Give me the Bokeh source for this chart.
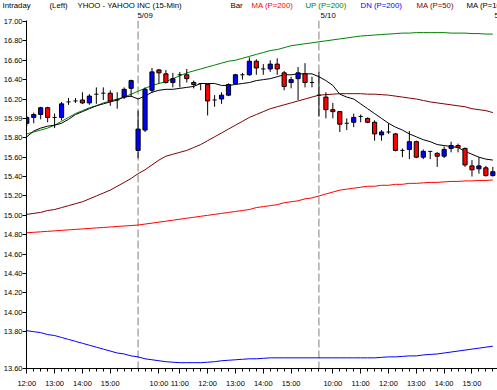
from bokeh.plotting import figure
from bokeh.models import Range1d, FixedTicker, Span, ColumnDataSource
from bokeh.layouts import column
from bokeh.core.properties import value
from bokeh.embed import file_html
from bokeh.resources import INLINE

# ---- data (bar index 0..67, 15-min bars over three sessions) ----
opens = [15.95, 16.01, 16.04, 16.11, 16.01, 16.01, 16.17, 16.18, 16.19, 16.16,
         16.25, 16.26, 16.26, 16.19, 16.22, 16.31,
         15.67, 15.88, 16.29, 16.50, 16.46, 16.37, 16.45, 16.45, 16.37, 16.36,
         16.35, 16.19, 16.20, 16.24, 16.36, 16.45, 16.45, 16.59, 16.51, 16.51,
         16.56, 16.47, 16.37, 16.41, 16.46, 16.37,
         16.24, 16.22, 16.09, 16.07, 15.95, 15.96, 16.02, 16.00, 15.96, 15.83,
         15.86, 15.84, 15.67, 15.68, 15.76, 15.60, 15.66, 15.64, 15.61, 15.69,
         15.72, 15.69, 15.51, 15.48, 15.49, 15.41]
highs = [16.03, 16.06, 16.12, 16.12, 16.05, 16.17, 16.21, 16.21, 16.27, 16.25,
         16.32, 16.32, 16.29, 16.27, 16.32, 16.40,
         16.08, 16.32, 16.52, 16.51, 16.50, 16.47, 16.48, 16.51, 16.39, 16.36,
         16.36, 16.24, 16.27, 16.36, 16.46, 16.47, 16.63, 16.61, 16.56, 16.60,
         16.62, 16.49, 16.43, 16.53, 16.57, 16.43,
         16.48, 16.27, 16.16, 16.07, 16.00, 16.05, 16.04, 16.01, 15.98, 15.88,
         15.95, 15.85, 15.69, 15.87, 15.77, 15.68, 15.66, 15.65, 15.71, 15.76,
         15.74, 15.70, 15.57, 15.60, 15.51, 15.50]
lows = [15.92, 15.95, 15.99, 15.96, 15.90, 15.98, 16.14, 16.16, 16.15, 16.14,
        16.15, 16.19, 16.13, 16.10, 16.20, 16.22,
        15.59, 15.86, 16.26, 16.36, 16.36, 16.32, 16.32, 16.37, 16.31, 16.29,
        16.03, 16.12, 16.15, 16.23, 16.35, 16.40, 16.44, 16.45, 16.45, 16.48,
        16.45, 16.29, 16.31, 16.19, 16.32, 16.32,
        16.02, 16.00, 16.00, 15.86, 15.88, 15.91, 15.96, 15.95, 15.77, 15.77,
        15.84, 15.66, 15.60, 15.58, 15.59, 15.58, 15.58, 15.50, 15.59, 15.65,
        15.65, 15.50, 15.40, 15.43, 15.40, 15.40]
closes = [16.01, 16.04, 16.11, 16.01, 16.01, 16.15, 16.17, 16.18, 16.16, 16.23,
          16.25, 16.26, 16.18, 16.19, 16.30, 16.39,
          15.89, 16.30, 16.48, 16.47, 16.37, 16.41, 16.45, 16.41, 16.35, 16.36,
          16.18, 16.19, 16.24, 16.35, 16.45, 16.45, 16.59, 16.52, 16.51, 16.56,
          16.51, 16.33, 16.40, 16.47, 16.37, 16.37,
          16.24, 16.09, 16.07, 15.94, 15.95, 16.01, 16.02, 15.96, 15.84, 15.86,
          15.86, 15.67, 15.67, 15.76, 15.60, 15.66, 15.66, 15.61, 15.68, 15.72,
          15.70, 15.52, 15.47, 15.51, 15.41, 15.45]

ma200 = [14.82, 14.825, 14.83, 14.835, 14.84, 14.845, 14.85, 14.855, 14.86, 14.865,
         14.87, 14.875, 14.88, 14.885, 14.89, 14.895, 14.90, 14.91, 14.92, 14.93,
         14.94, 14.95, 14.96, 14.97, 14.98, 14.99, 15.00, 15.01, 15.02, 15.03,
         15.04, 15.05, 15.06, 15.08, 15.09, 15.10, 15.11, 15.13, 15.14, 15.15,
         15.17, 15.18, 15.20, 15.22, 15.24, 15.26, 15.27, 15.28, 15.29, 15.30,
         15.30, 15.31, 15.31, 15.32, 15.32, 15.33, 15.33, 15.335, 15.34, 15.34,
         15.345, 15.35, 15.35, 15.355, 15.355, 15.36, 15.36, 15.365]
up200 = [15.84, 15.86, 15.88, 15.90, 15.93, 15.97, 16.01, 16.05, 16.08, 16.11,
         16.13, 16.16, 16.18, 16.20, 16.22, 16.25, 16.28, 16.31, 16.34, 16.36,
         16.38, 16.41, 16.44, 16.47, 16.49, 16.51, 16.53, 16.55, 16.57, 16.59,
         16.60, 16.62, 16.64, 16.66, 16.68, 16.70, 16.71, 16.73, 16.75, 16.76,
         16.77, 16.78, 16.79, 16.80, 16.81, 16.82, 16.83, 16.84, 16.85, 16.855,
         16.86, 16.865, 16.87, 16.875, 16.88, 16.88, 16.885, 16.885, 16.885, 16.885,
         16.885, 16.88, 16.88, 16.88, 16.875, 16.875, 16.87, 16.87]
dn200 = [13.81, 13.80, 13.79, 13.77, 13.76, 13.74, 13.72, 13.70, 13.68, 13.66,
         13.64, 13.62, 13.60, 13.58, 13.57, 13.55, 13.54, 13.52, 13.51, 13.50,
         13.49, 13.485, 13.48, 13.48, 13.48, 13.48, 13.485, 13.49, 13.50, 13.505,
         13.51, 13.515, 13.52, 13.52, 13.525, 13.53, 13.53, 13.53, 13.53, 13.53,
         13.53, 13.53, 13.53, 13.53, 13.53, 13.53, 13.53, 13.53, 13.53, 13.53,
         13.53, 13.535, 13.54, 13.54, 13.545, 13.55, 13.55, 13.56, 13.565, 13.57,
         13.58, 13.59, 13.60, 13.61, 13.62, 13.63, 13.64, 13.65]
ma50 = [15.01, 15.02, 15.03, 15.05, 15.06, 15.08, 15.10, 15.12, 15.14, 15.17,
        15.20, 15.23, 15.26, 15.30, 15.34, 15.38, 15.43, 15.47, 15.52, 15.57,
        15.61, 15.63, 15.65, 15.67, 15.70, 15.73, 15.77, 15.81, 15.85, 15.89,
        15.93, 15.97, 16.01, 16.04, 16.07, 16.10, 16.12, 16.14, 16.16, 16.18,
        16.20, 16.22, 16.24, 16.245, 16.25, 16.255, 16.255, 16.255, 16.255, 16.25,
        16.25, 16.245, 16.24, 16.23, 16.22, 16.21, 16.20, 16.185, 16.17, 16.16,
        16.15, 16.14, 16.13, 16.12, 16.10, 16.09, 16.08, 16.06]
ma10 = [15.81, 15.87, 15.90, 15.92, 15.93, 15.95, 15.99, 16.04, 16.07, 16.10,
        16.13, 16.15, 16.17, 16.19, 16.22, 16.23, 16.20, 16.23, 16.27, 16.29,
        16.30, 16.30, 16.31, 16.32, 16.33, 16.36, 16.36, 16.36, 16.34, 16.34,
        16.35, 16.36, 16.37, 16.39, 16.40, 16.41, 16.43, 16.45, 16.45, 16.46,
        16.46, 16.46, 16.43, 16.39, 16.34, 16.25, 16.22, 16.20, 16.15, 16.10,
        16.05, 16.00, 15.95, 15.91, 15.88, 15.84, 15.81, 15.78, 15.76, 15.73,
        15.72, 15.71, 15.70, 15.66, 15.63, 15.60, 15.58, 15.57]

day_starts = [16, 42]
day_labels = ["5/09", "5/10", "5/11"]
day_label_x = [16.25, 42.4, 67.25]
hour_ticks = [0, 4, 8, 12, 19, 22, 26, 30, 34, 38, 44, 48, 52, 56, 60, 64]
hour_labels = ["12:00", "13:00", "14:00", "15:00",
               "10:00", "11:00", "12:00", "13:00", "14:00", "15:00",
               "10:00", "11:00", "12:00", "13:00", "14:00", "15:00"]
y_ticks = [13.42, 13.8, 14.0, 14.2, 14.4, 14.6, 14.8, 15.0, 15.2, 15.4, 15.6,
           15.8, 16.0, 16.2, 16.4, 16.6, 16.8, 17.0]
y_tick_labels = ["13.60", "13.80", "14.00", "14.20", "14.40", "14.60", "14.80",
                 "15.00", "15.20", "15.40", "15.60", "15.80", "15.99", "16.20",
                 "16.40", "16.60", "16.80", "17.00"]
legend_texts = ["Intraday", "(Left)", "YHOO - YAHOO INC  (15-Min)", "Bar",
                "MA (P=200)", "UP (P=200)", "DN (P=200)", "MA (P=50)", "MA (P=10)"]
legend_colors = ["black", "black", "black", "black",
                 "#FF0000", "#008000", "#0000FF", "#800000", "black"]
legend_x = [-3.04, 3.67, 7.67, 29.53, 32.53, 40.24, 48.1, 56.1, 63.24]

FONT = "Liberation Sans"
FS = "7.5px"
FS_HEAD = "7.8px"

W = 497
HEAD_H = 18
MAIN_H = 372
BL = 23
X0, X1 = -0.04, 67.67

n = len(opens)
idx = list(range(n))

# ---------------- header strip (no axes, full width, same bar-index scale) ----------------
per_px = (X1 - X0) / (W - BL)
h = figure(width=W, height=HEAD_H, output_backend="svg", toolbar_location=None,
           x_range=Range1d(X0 - BL * per_px, X1), y_range=Range1d(0, HEAD_H),
           x_axis_location=None, y_axis_location=None,
           min_border_left=0, min_border_right=0, min_border_top=0,
           min_border_bottom=0)
h.frame_align = False
h.xgrid.visible = False
h.ygrid.visible = False
h.outline_line_color = None
h.background_fill_color = "white"
h.border_fill_color = "white"
h.text(x=legend_x, y=[13] * len(legend_x), text=legend_texts,
       text_color=legend_colors, text_font=value(FONT), text_font_size=FS_HEAD,
       text_align="left", text_baseline="middle")
h.text(x=day_label_x, y=[3.5] * len(day_label_x), text=day_labels,
       text_color="black", text_font=value(FONT), text_font_size=FS_HEAD,
       text_align="left", text_baseline="middle")

# ---------------- main price panel ----------------
p = figure(width=W, height=MAIN_H, output_backend="svg", toolbar_location=None,
           x_range=Range1d(X0, X1), y_range=Range1d(13.42, 17.01),
           min_border_left=BL, min_border_right=0, min_border_top=2,
           min_border_bottom=22)
p.frame_align = False
p.outline_line_color = None
p.xgrid.visible = False
p.ygrid.visible = False
p.background_fill_color = "white"
p.border_fill_color = "white"

for d in day_starts:
    p.add_layout(Span(location=d, dimension="height", line_color="#808080",
                      line_width=1, line_dash="8 3", level="underlay"))

p.line(idx, ma200, line_color="#FF0000", line_width=1)
p.line(idx, up200, line_color="#008000", line_width=1)
p.line(idx, dn200, line_color="#0000FF", line_width=1)
p.line(idx, ma50, line_color="#800000", line_width=1)
p.line(idx, ma10, line_color="#000000", line_width=1)

w = 0.6
p.segment(x0="x", y0="h", x1="x", y1="l",
          source=ColumnDataSource(dict(x=idx, h=highs, l=lows)),
          line_color="black", line_width=1)
body = dict(x=[], top=[], bottom=[], color=[])
doji = dict(x0=[], x1=[], y=[])
for i in idx:
    o, c = opens[i], closes[i]
    if abs(c - o) < 1e-9:
        doji["x0"].append(i - w / 2)
        doji["x1"].append(i + w / 2)
        doji["y"].append(o)
    else:
        body["x"].append(i)
        body["top"].append(max(o, c))
        body["bottom"].append(min(o, c))
        body["color"].append("#0000FF" if c > o else "#FF0000")
p.vbar(x="x", top="top", bottom="bottom", width=w, fill_color="color",
       line_color="black", line_width=1, source=ColumnDataSource(body))
p.segment(x0="x0", y0="y", x1="x1", y1="y", source=ColumnDataSource(doji),
          line_color="black", line_width=1)

xa = p.xaxis[0]
xa.ticker = FixedTicker(ticks=hour_ticks, minor_ticks=idx)
xa.major_label_overrides = {t: s for t, s in zip(hour_ticks, hour_labels)}
xa.major_tick_out = 5
xa.major_tick_in = 0
xa.minor_tick_out = 3
xa.minor_tick_in = 0
xa.major_label_standoff = 5
xa.major_label_text_font = FONT
xa.major_label_text_font_size = FS
xa.major_label_text_color = "black"
xa.axis_line_color = "black"

ya = p.yaxis[0]
ya.ticker = FixedTicker(ticks=y_ticks, minor_ticks=[])
ya.major_label_overrides = {t: s for t, s in zip(y_ticks, y_tick_labels)}
ya.major_tick_out = 4
ya.major_tick_in = 0
ya.minor_tick_out = 0
ya.minor_tick_in = 0
ya.major_label_standoff = 0
ya.major_label_text_font = FONT
ya.major_label_text_font_size = FS
ya.major_label_text_color = "black"
ya.axis_line_color = "black"

open("out.html", "w").write(file_html(column(h, p, spacing=0), INLINE))
